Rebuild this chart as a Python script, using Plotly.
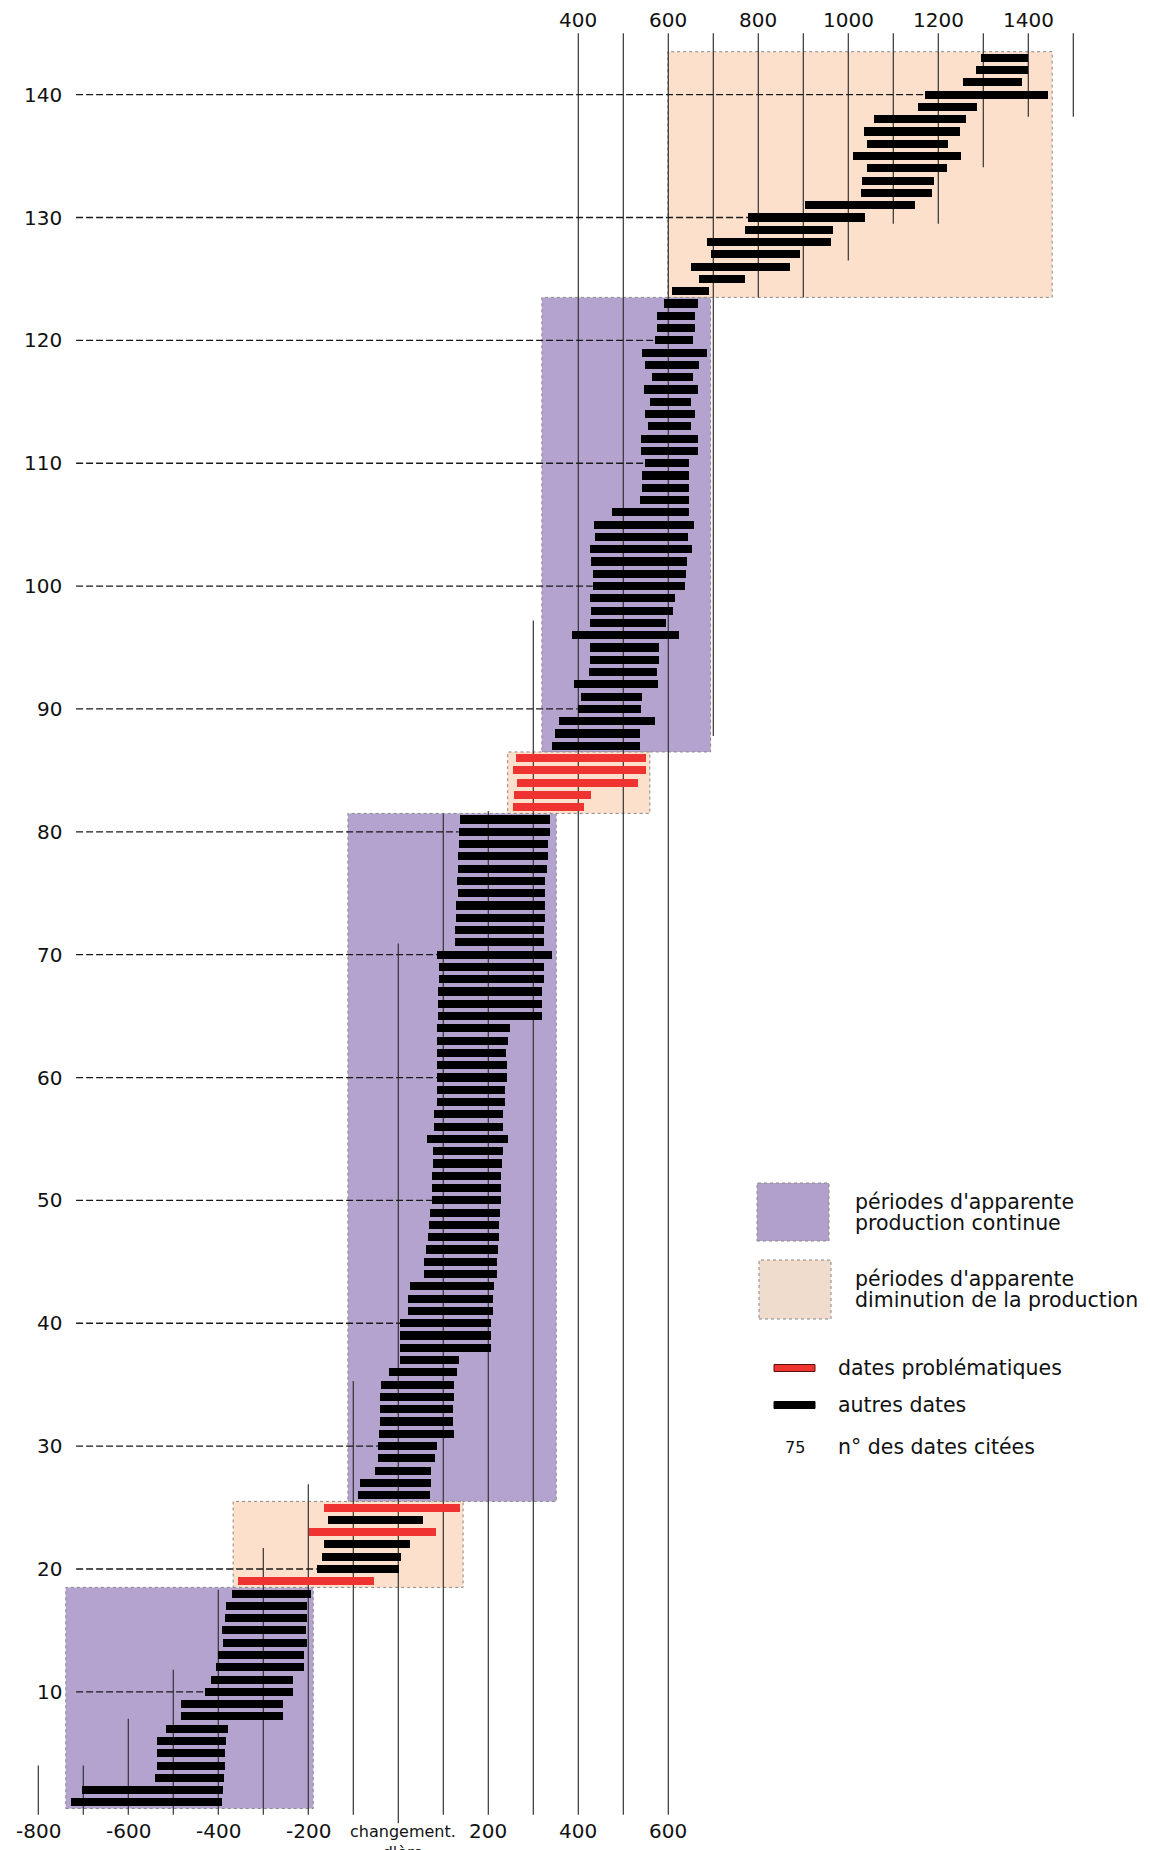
import plotly.graph_objects as go

# ---------------- data ----------------
rows = list(range(1, 144))
starts = [-727, -703, -541, -536, -536, -536, -516, -483, -483, -430,
          -416, -405, -400, -390, -392, -385, -383, -370, -356, -181,
          -170, -165, -199, -156, -165, -89, -85, -52, -45, -45,
          -43, -41, -41, -41, -38, -21, 4, 4, 4, 4,
          21, 21, 26, 57, 57, 61, 66, 68, 70, 75,
          75, 75, 77, 77, 64, 79, 79, 86, 86, 86,
          86, 86, 86, 86, 88, 88, 88, 90, 90, 86,
          126, 126, 128, 128, 132, 130, 132, 132, 134, 134,
          137, 255, 257, 264, 255, 262, 341, 348, 357, 399,
          405, 390, 423, 425, 425, 385, 427, 429, 427, 432,
          432, 429, 425, 436, 434, 474, 538, 542, 542, 549,
          540, 540, 555, 549, 560, 546, 564, 549, 542, 571,
          575, 575, 590, 608, 668, 650, 695, 686, 770, 777,
          904, 1028, 1030, 1041, 1010, 1041, 1035, 1057, 1155, 1170,
          1255, 1284, 1295]
ends = [-392, -390, -388, -385, -385, -383, -379, -256, -256, -234,
        -234, -210, -210, -203, -206, -203, -203, -194, -54, 1,
        6, 26, 84, 55, 137, 70, 72, 72, 81, 86,
        123, 121, 121, 123, 123, 130, 134, 205, 205, 205,
        210, 210, 212, 219, 219, 221, 223, 223, 225, 228,
        228, 228, 230, 232, 243, 232, 232, 236, 236, 241,
        241, 239, 243, 248, 319, 319, 319, 323, 323, 341,
        323, 323, 325, 325, 327, 327, 330, 332, 332, 336,
        336, 412, 429, 533, 551, 551, 538, 538, 571, 540,
        542, 577, 575, 579, 579, 624, 595, 610, 615, 637,
        639, 641, 652, 643, 657, 646, 646, 646, 646, 646,
        665, 665, 650, 659, 650, 665, 654, 668, 685, 654,
        659, 659, 665, 690, 770, 870, 893, 961, 966, 1037,
        1148, 1186, 1190, 1219, 1250, 1221, 1248, 1261, 1286, 1444,
        1386, 1400, 1400]
problem_rows = [19, 23, 25, 82, 83, 84, 85, 86]

# periods (x0, x1 in years; y0, y1 in row numbers)
continuous_x0 = [-739, -112, 319]
continuous_x1 = [-189, 351, 694]
continuous_y0 = [0.5, 25.5, 86.5]
continuous_y1 = [18.5, 81.5, 123.5]
decline_x0 = [-367, 243, 599]
decline_x1 = [144, 559, 1453]
decline_y0 = [18.5, 81.5, 123.5]
decline_y1 = [25.5, 86.5, 143.5]

# century lines
grid_years = [-800, -700, -600, -500, -400, -300, -200, -100, 0, 100, 200, 300,
              400, 500, 600, 700, 800, 900, 1000, 1100, 1200, 1300, 1400, 1500]
grid_lo = [0, 0, 0, 0, 0, 0, 0, 0, -0.7, 0, 0, 0,
           0, 0, 0, 87.8, 123.5, 123.5, 126.5, 129.5, 129.5, 134.1, 138.2, 138.2]
grid_hi = [4.0, 4.0, 7.8, 11.8, 18.3, 21.7, 26.9, 35.3, 70.9, 81.5, 81.7, 97.2,
           145, 145, 145, 145, 145, 145, 145, 145, 145, 145, 145, 145]

ytick_vals = [10, 20, 30, 40, 50, 60, 70, 80, 90, 100, 110, 120, 130, 140]
top_tick_vals = [400, 600, 800, 1000, 1200, 1400]
bottom_tick_vals = [-800, -600, -400, -200, 0, 200, 400, 600]
bottom_tick_text = ["-800", "-600", "-400", "-200", "changement.<br>d'ère", "200", "400", "600"]

legend_labels = ["périodes d'apparente", "production continue",
                 "périodes d'apparente", "diminution de la production",
                 "dates problématiques", "autres dates", "n° des dates citées"]

# ---------------- styling / geometry ----------------
W, H = 1150, 1850
PAGE_OFF = 8            # page body margin in the browser
X0PX, PX_PER_YEAR = 398.3 - PAGE_OFF, 0.45
Y0PX, PX_PER_ROW = 1814.7 - PAGE_OFF, 12.286
XR = [(0 - X0PX) / PX_PER_YEAR, (W - X0PX) / PX_PER_YEAR]
YR = [(Y0PX - H) / PX_PER_ROW, Y0PX / PX_PER_ROW]

PURPLE = "#b4a3cf"
PEACH = "#fde0cc"
RED = "#ee3330"
FONT = "DejaVu Sans"

fig = go.Figure()

blk_y = [r for r in rows if r not in problem_rows]
blk_b = [s for r, s in zip(rows, starts) if r not in problem_rows]
blk_x = [e - s for r, s, e in zip(rows, starts, ends) if r not in problem_rows]
red_y = [r for r in rows if r in problem_rows]
red_b = [s for r, s in zip(rows, starts) if r in problem_rows]
red_x = [e - s for r, s, e in zip(rows, starts, ends) if r in problem_rows]

fig.add_trace(go.Bar(y=blk_y, x=blk_x, base=blk_b, orientation="h", width=0.66,
                     marker=dict(color="black", line=dict(width=0)), showlegend=False,
                     hoverinfo="skip"))
fig.add_trace(go.Bar(y=red_y, x=red_x, base=red_b, orientation="h", width=0.66,
                     marker=dict(color=RED, line=dict(width=0)), showlegend=False,
                     hoverinfo="skip"))

shapes = []
for x0, x1, y0, y1 in zip(continuous_x0, continuous_x1, continuous_y0, continuous_y1):
    shapes.append(dict(type="rect", xref="x", yref="y", x0=x0, x1=x1, y0=y0, y1=y1,
                       fillcolor=PURPLE, line=dict(color="#888888", width=1, dash="dot"),
                       layer="below"))
for x0, x1, y0, y1 in zip(decline_x0, decline_x1, decline_y0, decline_y1):
    shapes.append(dict(type="rect", xref="x", yref="y", x0=x0, x1=x1, y0=y0, y1=y1,
                       fillcolor=PEACH, line=dict(color="#888888", width=1, dash="dot"),
                       layer="below"))
for gx, lo, hi in zip(grid_years, grid_lo, grid_hi):
    shapes.append(dict(type="line", xref="x", yref="y", x0=gx, x1=gx, y0=lo, y1=hi,
                       line=dict(color="#333333", width=1.2), layer="below"))
for yv in ytick_vals:
    shapes.append(dict(type="line", xref="x", yref="y", x0=-716, x1=starts[yv - 1],
                       y0=yv, y1=yv, line=dict(color="#1a1a1a", width=1.3, dash="7px,3px"),
                       layer="below"))

# legend shapes (page pixel positions converted to paper)
def px(x):
    return (x - PAGE_OFF) / W

def py(y):
    return 1 - (y - PAGE_OFF) / H

shapes.append(dict(type="rect", xref="paper", yref="paper", x0=px(757), x1=px(829),
                   y0=py(1241), y1=py(1183), fillcolor="#b1a0cc",
                   line=dict(color="#888888", width=1, dash="dot")))
shapes.append(dict(type="rect", xref="paper", yref="paper", x0=px(759), x1=px(831),
                   y0=py(1319), y1=py(1260), fillcolor="#f0dccd",
                   line=dict(color="#888888", width=1, dash="dot")))
shapes.append(dict(type="rect", xref="paper", yref="paper", x0=px(774), x1=px(815),
                   y0=py(1371.5), y1=py(1364.5), fillcolor=RED,
                   line=dict(color="#5a1010", width=1)))
shapes.append(dict(type="rect", xref="paper", yref="paper", x0=px(774), x1=px(815),
                   y0=py(1408.5), y1=py(1401.5), fillcolor="black",
                   line=dict(color="black", width=1)))

ann = []
for yv in ytick_vals:
    ann.append(dict(x=-742, y=yv, xref="x", yref="y", text=str(yv), showarrow=False,
                    xanchor="right", yanchor="middle", font=dict(family=FONT, size=20, color="#111")))
for tv in top_tick_vals:
    ann.append(dict(x=tv, y=146.1, xref="x", yref="y", text=str(tv), showarrow=False,
                    xanchor="center", yanchor="middle", font=dict(family=FONT, size=20, color="#111")))
for tv, tt in zip(bottom_tick_vals, bottom_tick_text):
    if tv == 0:
        ann.append(dict(x=tv + 11, y=-1.33, xref="x", yref="y", text=tt, showarrow=False,
                        xanchor="center", yanchor="top", yshift=11,
                        font=dict(family=FONT, size=16, color="#111")))
    else:
        ann.append(dict(x=tv, y=-1.33, xref="x", yref="y", text=tt, showarrow=False,
                        xanchor="center", yanchor="middle", font=dict(family=FONT, size=20, color="#111")))

leg_pos = [(853, 1202), (853, 1223), (853, 1279), (853, 1300), (836, 1368), (836, 1405), (836, 1447)]
for (lx, ly), lt in zip(leg_pos, legend_labels):
    ann.append(dict(x=px(lx), y=py(ly), xref="paper", yref="paper", text=lt, showarrow=False,
                    xanchor="left", yanchor="middle", font=dict(family=FONT, size=20.5, color="#111")))
ann.append(dict(x=px(795), y=py(1447), xref="paper", yref="paper", text="75", showarrow=False,
                xanchor="center", yanchor="middle", font=dict(family=FONT, size=16, color="#111")))

fig.update_layout(
    width=W, height=H,
    margin=dict(l=0, r=0, t=0, b=0, pad=0),
    paper_bgcolor="white", plot_bgcolor="white",
    xaxis=dict(range=XR, visible=False, fixedrange=True),
    yaxis=dict(range=YR, visible=False, fixedrange=True),
    shapes=shapes, annotations=ann, barmode="overlay", bargap=0,
    showlegend=False,
)

fig.write_html("out.html")
